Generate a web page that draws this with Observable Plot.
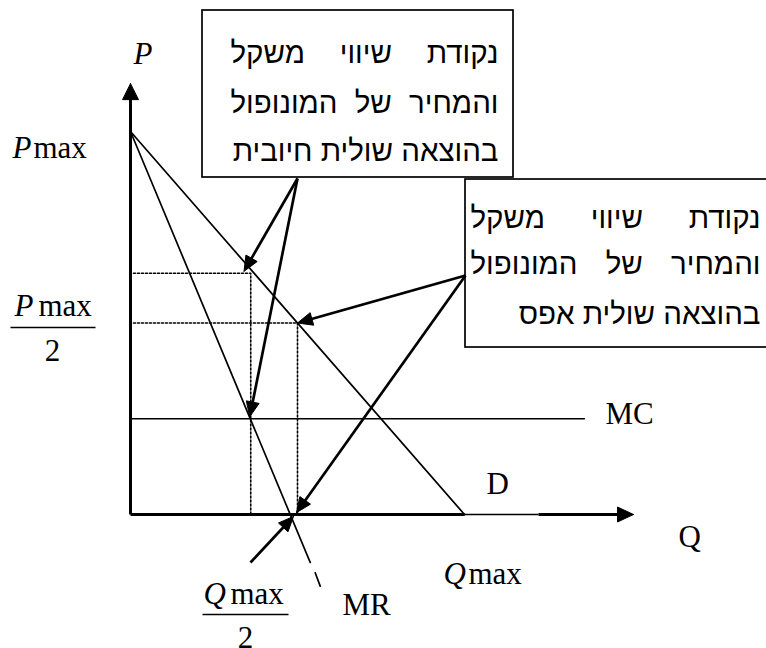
<!DOCTYPE html>
<html><head><meta charset="utf-8">
<script src="https://cdn.jsdelivr.net/npm/d3@7"></script>
<script src="https://cdn.jsdelivr.net/npm/@observablehq/plot@0.6"></script>
<style>html,body{margin:0;padding:0;overflow:hidden;background:#fff}</style>
</head><body><div id="chart"></div>
<script>
// ---- values (fractions of Pmax and Qmax) ----
const Pmax = 1, Qmax = 1;
const mcLevel = 0.25;
const mcEndQ = 1.362;
const demandQ = [0, Qmax];
const demandP = [Pmax, 0];
const mrQ = [0, 0.538];
const mrP = [Pmax, -0.125];
const mrTailQ = [0.553, 0.568];
const mrTailP = [-0.152, -0.187];
const eqPosMC = {q: 0.36, p: 0.63};   // monopoly optimum with positive MC
const eqZeroMC = {q: 0.5, p: 0.5};    // monopoly optimum with zero MC
const axisYTop = 1.125;
const axisXEnd = 1.506;
const axisThinFrom = Qmax, axisThinTo = 1.2216;
const box1Lines = ["נקודת שיווי משקל", "והמחיר של המונופול", "בהוצאה שולית חיובית"];
const box2Lines = ["נקודת שיווי משקל", "והמחיר של המונופול", "בהוצאה שולית אפס"];
const labelP = "P", labelMax = "max", labelTwo = "2", labelQ = "Q";
const labelMC = "MC", labelD = "D", labelMR = "MR";

// ---- pixel <-> data mapping (defines the scales) ----
const W = 766, H = 648;
const X0 = 130, KX = 334, Y0 = 514, KY = 383;
const fx = px => (px - X0) / KX, fy = py => (Y0 - py) / KY;
const tx = q => X0 + q * KX, ty = p => Y0 - p * KY;

const serif = "Liberation Serif, Times New Roman, serif";
const heb = "Liberation Sans, Arial, DejaVu Sans, sans-serif";
const LFS = 31, HFS = 29.5;

// arrowhead polygon (computed in pixel space, returned in data space)
let headId = 0;
function head(from, to, len, half) {
  const x1 = tx(from[0]), y1 = ty(from[1]), x2 = tx(to[0]), y2 = ty(to[1]);
  const d = Math.hypot(x2 - x1, y2 - y1), ux = (x2 - x1) / d, uy = (y2 - y1) / d;
  const bx = x2 - ux * len, by = y2 - uy * len, id = headId++;
  return [
    {id, q: to[0], p: to[1]},
    {id, q: fx(bx - uy * half), p: fy(by + ux * half)},
    {id, q: fx(bx + uy * half), p: fy(by - ux * half)},
    {id, q: to[0], p: to[1]}
  ];
}
function shaftEnd(from, to, len) {
  const x1 = tx(from[0]), y1 = ty(from[1]), x2 = tx(to[0]), y2 = ty(to[1]);
  const d = Math.hypot(x2 - x1, y2 - y1);
  return [fx(x2 - (x2 - x1) / d * len), fy(y2 - (y2 - y1) / d * len)];
}

// annotation boxes
const box1 = {x1: fx(202), x2: fx(513), y1: fy(177), y2: fy(10)};
const box2 = {x1: fx(465), x2: fx(790), y1: fy(347), y2: fy(179)};
const box1Anchor = [fx(297), fy(178)];
const box2Anchor = [fx(465), fy(275)];

const arrows = [
  [box1Anchor, [eqPosMC.q - 0.02, eqPosMC.p + 0.005]],
  [box1Anchor, [eqPosMC.q - 0.003, mcLevel + 0.005]],
  [box2Anchor, [eqZeroMC.q, eqZeroMC.p]],
  [box2Anchor, [eqZeroMC.q - 0.003, 0.005]],
  [[fx(250), fy(562)], [0.488, -0.005]]
];

const heads = [];
const shafts = [];
for (const [a, b] of arrows) {
  heads.push(...head(a, b, 15, 6.5));
  const e = shaftEnd(a, b, 10);
  shafts.push({q1: a[0], p1: a[1], q2: e[0], p2: e[1]});
}
heads.push(...head([0, 0], [0, axisYTop], 16, 8));
heads.push(...head([0, 0], [axisXEnd, 0], 16, 7.5));
const yAxisEnd = shaftEnd([0, 0], [0, axisYTop], 12);
const xAxisEnd = shaftEnd([0, 0], [axisXEnd, 0], 12);

// justified RTL text layout
const ctx = document.createElement("canvas").getContext("2d");
ctx.font = `${HFS}px ${heb}`;
function layoutBox(lines, left, right, baselines) {
  const out = [];
  lines.forEach((line, i) => {
    if (i === lines.length - 1) { out.push({q: fx(right), p: fy(baselines[i]), text: line}); return; }
    const words = line.split(" ");
    const widths = words.map(w => ctx.measureText(w).width);
    const gap = (right - left - d3.sum(widths)) / (words.length - 1);
    let r = right;
    words.forEach((w, j) => { out.push({q: fx(r), p: fy(baselines[i]), text: w}); r -= widths[j] + gap; });
  });
  return out;
}
const hebText = [
  ...layoutBox(box1Lines, 230, 498, [62, 112, 160]),
  ...layoutBox(box2Lines, 470, 760, [227, 273, 323])
];

const italicLabels = [
  {q: fx(133), p: fy(63), text: labelP},
  {q: fx(12), p: fy(157), text: labelP},
  {q: fx(14), p: fy(315), text: labelP},
  {q: fx(443), p: fy(583), text: labelQ},
  {q: fx(203), p: fy(603), text: labelQ}
];
const romanLabels = [
  {q: fx(33), p: fy(157), text: labelMax},
  {q: fx(38), p: fy(315), text: labelMax},
  {q: fx(468), p: fy(583), text: labelMax},
  {q: fx(230), p: fy(603), text: labelMax},
  {q: mcEndQ + fx(605) - fx(585), p: fy(423), text: labelMC},
  {q: fx(486), p: fy(493), text: labelD},
  {q: fx(678), p: fy(546), text: labelQ},
  {q: fx(342), p: fy(614), text: labelMR}
];
const centered = [
  {q: fx(52), p: fy(360), text: labelTwo},
  {q: fx(245), p: fy(647), text: labelTwo}
];
const fracBars = [
  {q1: fx(10), q2: fx(95), p: fy(327)},
  {q1: fx(202), q2: fx(288), p: fy(614)}
];

const dotted1 = [{q: fx(133), p: eqPosMC.p}, {q: eqPosMC.q, p: eqPosMC.p}, {q: eqPosMC.q, p: 0}];
const dotted2 = [{q: fx(133), p: eqZeroMC.p}, {q: eqZeroMC.q, p: eqZeroMC.p}, {q: eqZeroMC.q, p: 0}];
const demand = demandQ.map((q, i) => ({q, p: demandP[i]}));
const mr = mrQ.map((q, i) => ({q, p: mrP[i]}));
const mrTail = mrTailQ.map((q, i) => ({q, p: mrTailP[i]}));

const chart = Plot.plot({
  width: W, height: H, margin: 0,
  x: {domain: [fx(0), fx(W)], axis: null},
  y: {domain: [fy(H), fy(0)], axis: null},
  style: {background: "white", overflow: "hidden"},
  marks: [
    Plot.line(dotted1, {x: "q", y: "p", stroke: "black", strokeWidth: 1.6, strokeDasharray: "2,2"}),
    Plot.line(dotted2, {x: "q", y: "p", stroke: "black", strokeWidth: 1.6, strokeDasharray: "2,2"}),
    Plot.ruleY([mcLevel], {x1: 0, x2: mcEndQ, stroke: "black", strokeWidth: 1.6}),
    Plot.line(demand, {x: "q", y: "p", stroke: "black", strokeWidth: 1.7}),
    Plot.line(mr, {x: "q", y: "p", stroke: "black", strokeWidth: 1.7}),
    Plot.line(mrTail, {x: "q", y: "p", stroke: "black", strokeWidth: 1.7}),
    // axes
    Plot.link([{q1: 0, p1: 0, q2: 0, p2: yAxisEnd[1]}], {x1: "q1", y1: "p1", x2: "q2", y2: "p2", stroke: "black", strokeWidth: 3}),
    Plot.link([{q1: 0, p1: 0, q2: axisThinFrom, p2: 0}, {q1: axisThinTo, p1: 0, q2: xAxisEnd[0], p2: 0}], {x1: "q1", y1: "p1", x2: "q2", y2: "p2", stroke: "black", strokeWidth: 3}),
    Plot.link([{q1: axisThinFrom, p1: 0, q2: axisThinTo, p2: 0}], {x1: "q1", y1: "p1", x2: "q2", y2: "p2", stroke: "black", strokeWidth: 1.3}),
    // boxes
    Plot.rect([box1, box2], {x1: "x1", x2: "x2", y1: "y1", y2: "y2", fill: "white", stroke: "black", strokeWidth: 1.7}),
    // arrows
    Plot.link(shafts, {x1: "q1", y1: "p1", x2: "q2", y2: "p2", stroke: "black", strokeWidth: 2.7}),
    Plot.line(heads, {x: "q", y: "p", z: "id", fill: "black", stroke: "black", strokeWidth: 1, strokeLinejoin: "miter"}),
    // fraction bars
    Plot.link(fracBars, {x1: "q1", x2: "q2", y1: "p", y2: "p", stroke: "black", strokeWidth: 1.5}),
    // labels
    Plot.text(italicLabels, {x: "q", y: "p", text: "text", textAnchor: "start", lineAnchor: "bottom", fontFamily: serif, fontSize: LFS, fontStyle: "italic", fill: "black"}),
    Plot.text(romanLabels, {x: "q", y: "p", text: "text", textAnchor: "start", lineAnchor: "bottom", fontFamily: serif, fontSize: LFS, fill: "black"}),
    Plot.text(centered, {x: "q", y: "p", text: "text", textAnchor: "middle", lineAnchor: "bottom", fontFamily: serif, fontSize: LFS, fill: "black"}),
    Plot.text(hebText, {x: "q", y: "p", text: "text", textAnchor: "end", lineAnchor: "bottom", fontFamily: heb, fontSize: HFS, fill: "black"})
  ]
});
document.getElementById("chart").appendChild(chart);
</script>
</body></html>
